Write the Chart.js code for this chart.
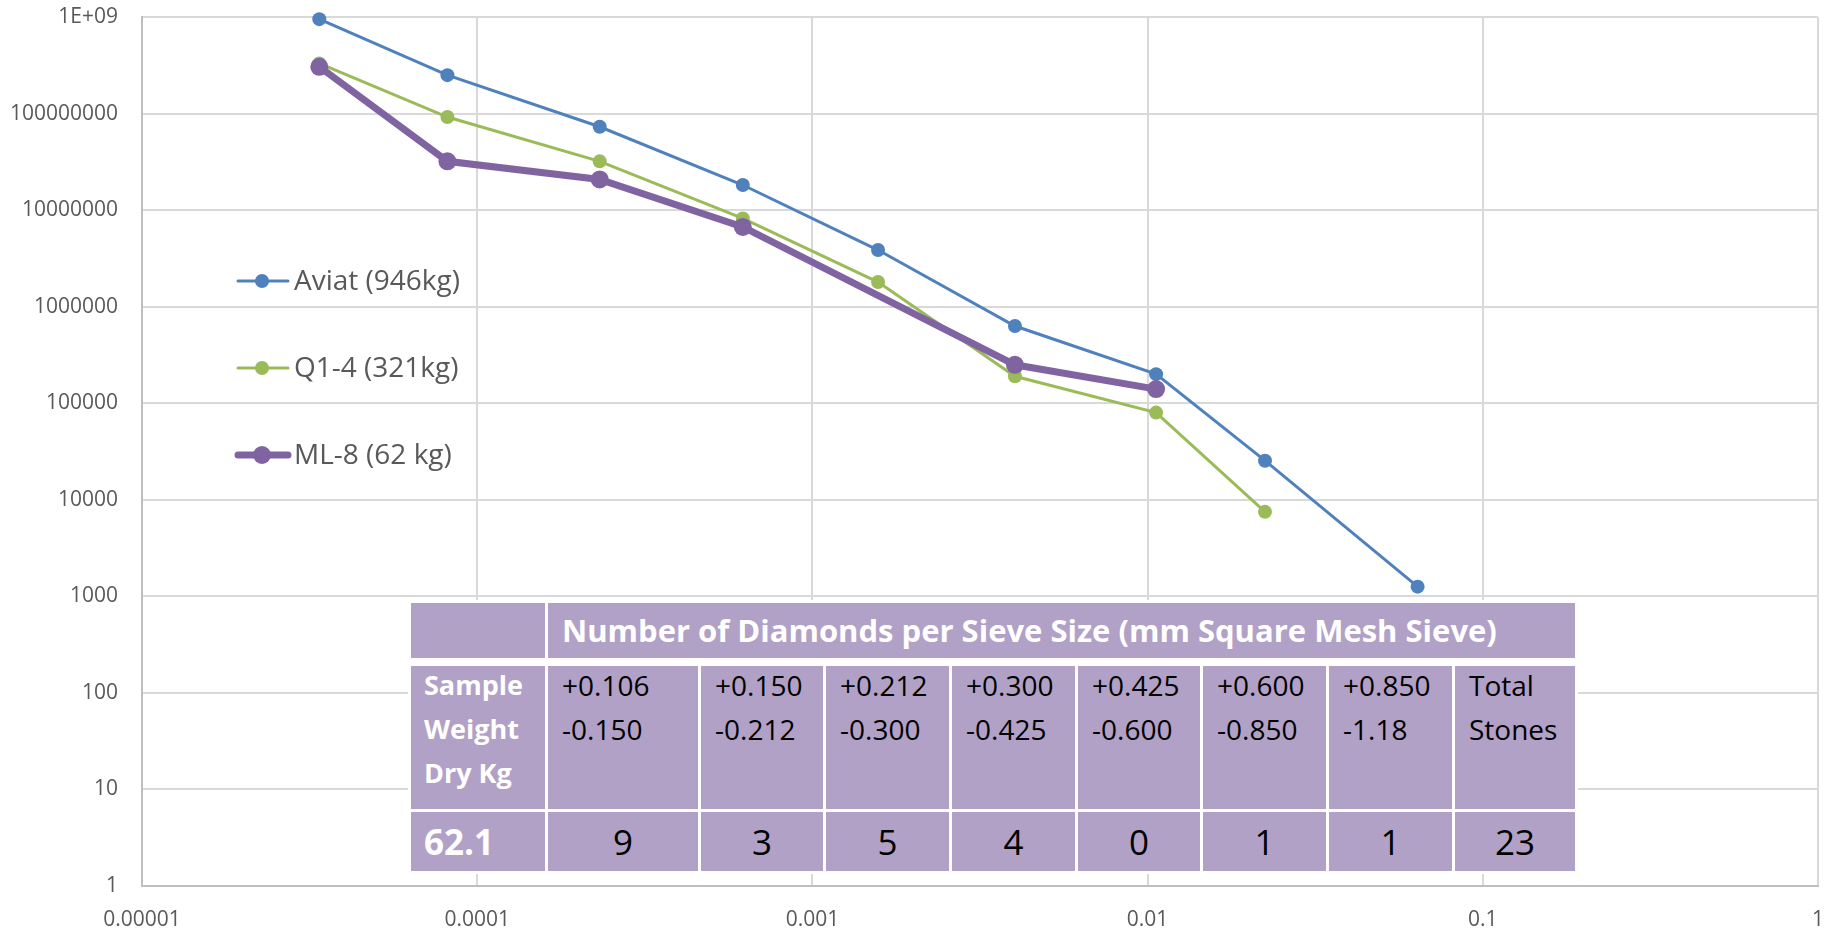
<!DOCTYPE html>
<html>
<head>
<meta charset="utf-8">
<title>Diamonds per sieve size</title>
<script src="https://cdn.jsdelivr.net/npm/chart.js@4.4.1/dist/chart.umd.min.js"></script>
<style>
    html, body { margin: 0; padding: 0; background: #fff; }
    #wrap { position: relative; width: 1836px; height: 930px; }
    #sieveTable {
        position: absolute; left: 408px; top: 600px;
        border-collapse: separate; border-spacing: 3px;
        background: #fff; table-layout: fixed;
        font-family: "Open Sans", sans-serif;
    }
    #sieveTable td { background: #B2A1C7; padding: 0; vertical-align: top; box-sizing: border-box; }
    #sieveTable .head td { border-bottom: 5px solid #fff; }
    #sieveTable .head div { height: 55px; line-height: 55px; padding-left: 14px; color: #fff; font-weight: bold; font-size: 31px; white-space: nowrap; }
    #sieveTable .ranges div { height: 143px; line-height: 44px; padding-left: 14px; color: #000; font-size: 28px; white-space: nowrap; position: relative; top: -3px; }
    #sieveTable .ranges div.lbl { color: #fff; font-weight: bold; font-size: 27px; padding-left: 13px; }
    #sieveTable .counts div { height: 59px; line-height: 59px; text-align: center; color: #000; font-size: 35px; }
    #sieveTable .counts div.lbl { text-align: left; padding-left: 13px; color: #fff; font-weight: bold; }
</style>
</head>
<body>
<div id="wrap">
    <canvas id="sieveChart" width="1836" height="930"></canvas>
    <table id="sieveTable"></table>
</div>
<script>
// Datos del gráfico
const sieveX = [3.38e-5, 8.15e-5, 2.32e-4, 6.2e-4, 1.57e-3, 4.02e-3, 0.0106, 0.0224, 0.0639];
const aviatValues = [9.5e8, 2.5e8, 7.3e7, 1.82e7, 3.86e6, 6.3e5, 2.0e5, 2.54e4, 1260];
const q14Values = [3.3e8, 9.2e7, 3.2e7, 8.2e6, 1.8e6, 1.9e5, 8.0e4, 7500, null];
const ml8Values = [3.05e8, 3.2e7, 2.08e7, 6.7e6, null, 2.5e5, 1.4e5, null, null];

const yTickValues = [1, 10, 100, 1000, 1e4, 1e5, 1e6, 1e7, 1e8, 1e9];
const yTickLabels = ['1', '10', '100', '1000', '10000', '100000', '1000000', '10000000', '100000000', '1E+09'];
const xTickValues = [1e-5, 1e-4, 1e-3, 1e-2, 1e-1, 1];
const xTickLabels = ['0.00001', '0.0001', '0.001', '0.01', '0.1', '1'];

// Datos de la tabla
const tableTitle = 'Number of Diamonds per Sieve Size (mm Square Mesh Sieve)';
const sampleLabel = ['Sample', 'Weight', 'Dry Kg'];
const sieveRanges = [['+0.106', '-0.150'], ['+0.150', '-0.212'], ['+0.212', '-0.300'], ['+0.300', '-0.425'],
                     ['+0.425', '-0.600'], ['+0.600', '-0.850'], ['+0.850', '-1.18'], ['Total', 'Stones']];
const sampleWeight = '62.1';
const stoneCounts = [9, 3, 5, 4, 0, 1, 1, 23];
const colWidths = [134, 150, 122, 123, 123, 122, 123, 123, 120];

function toPoints(values) {
    return sieveX.map((x, i) => ({ x: x, y: values[i] }));
}

// Construir la tabla
function buildTable() {
    const table = document.getElementById('sieveTable');
    let html = '<colgroup>' + colWidths.map(w => `<col style="width:${w}px">`).join('') + '</colgroup>';
    html += `<tr class="head"><td><div></div></td><td colspan="${sieveRanges.length}"><div>${tableTitle}</div></td></tr>`;
    html += '<tr class="ranges"><td><div class="lbl">' + sampleLabel.join('<br>') + '</div></td>';
    sieveRanges.forEach(r => { html += `<td><div>${r.join('<br>')}</div></td>`; });
    html += '</tr>';
    html += `<tr class="counts"><td><div class="lbl">${sampleWeight}</div></td>`;
    stoneCounts.forEach(c => { html += `<td><div>${c}</div></td>`; });
    html += '</tr>';
    table.innerHTML = html;
}

// Leyenda dentro del gráfico
const insideLegend = {
    id: 'insideLegend',
    afterDraw(chart) {
        const ctx = chart.ctx;
        const rows = [281, 368, 455];
        chart.data.datasets.forEach((ds, i) => {
            const y = rows[i];
            ctx.save();
            ctx.strokeStyle = ds.borderColor;
            ctx.lineWidth = ds.borderWidth;
            ctx.lineCap = 'round';
            ctx.beginPath();
            ctx.moveTo(238, y);
            ctx.lineTo(288, y);
            ctx.stroke();
            ctx.fillStyle = ds.borderColor;
            ctx.beginPath();
            ctx.arc(262, y, ds.pointRadius, 0, Math.PI * 2);
            ctx.fill();
            ctx.fillStyle = '#595959';
            ctx.font = '28px "Open Sans"';
            ctx.textBaseline = 'middle';
            ctx.fillText(ds.label, 294, y + 1);
            ctx.restore();
        });
    }
};

buildTable();

const ctx = document.getElementById('sieveChart').getContext('2d');
new Chart(ctx, {
    type: 'line',
    data: {
        datasets: [
            {
                label: 'Aviat (946kg)', data: toPoints(aviatValues),
                borderColor: '#4F81BD', backgroundColor: '#4F81BD',
                borderWidth: 3, pointRadius: 7, pointBorderWidth: 0, order: 3, clip: false
            },
            {
                label: 'Q1-4 (321kg)', data: toPoints(q14Values),
                borderColor: '#9BBB59', backgroundColor: '#9BBB59',
                borderWidth: 3, pointRadius: 7, pointBorderWidth: 0, order: 2, clip: false
            },
            {
                label: 'ML-8 (62 kg)', data: toPoints(ml8Values),
                borderColor: '#8064A2', backgroundColor: '#8064A2',
                borderWidth: 7, pointRadius: 9, pointBorderWidth: 0, order: 1, clip: false,
                spanGaps: true
            }
        ]
    },
    options: {
        responsive: false,
        animation: false,
        devicePixelRatio: 1,
        layout: { padding: { left: 0, top: 17, right: 18, bottom: 0 } },
        plugins: { legend: { display: false }, tooltip: { enabled: false } },
        scales: {
            x: {
                type: 'logarithmic', min: 1e-5, max: 1,
                afterBuildTicks: s => { s.ticks = xTickValues.map(v => ({ value: v })); },
                afterFit: s => { s.height = 44; s.paddingLeft = 0; s.paddingRight = 0; },
                grid: { color: '#d9d9d9', lineWidth: 2, drawTicks: false },
                border: { color: '#bfbfbf', width: 2 },
                ticks: {
                    padding: 21, color: '#595959', font: { family: 'Open Sans', size: 21 },
                    maxRotation: 0, autoSkip: false,
                    callback: (v, i) => xTickLabels[i]
                }
            },
            y: {
                type: 'logarithmic', min: 1, max: 1e9,
                afterBuildTicks: s => { s.ticks = yTickValues.map(v => ({ value: v })); },
                afterFit: s => { s.width = 142; s.paddingTop = 0; s.paddingBottom = 0; },
                grid: { color: '#d9d9d9', lineWidth: 2, drawTicks: false },
                border: { color: '#bfbfbf', width: 2 },
                ticks: {
                    padding: 24, color: '#595959', font: { family: 'Open Sans', size: 21 },
                    autoSkip: false,
                    callback: (v, i) => yTickLabels[i]
                }
            }
        }
    },
    plugins: [insideLegend]
});
</script>
</body>
</html>
